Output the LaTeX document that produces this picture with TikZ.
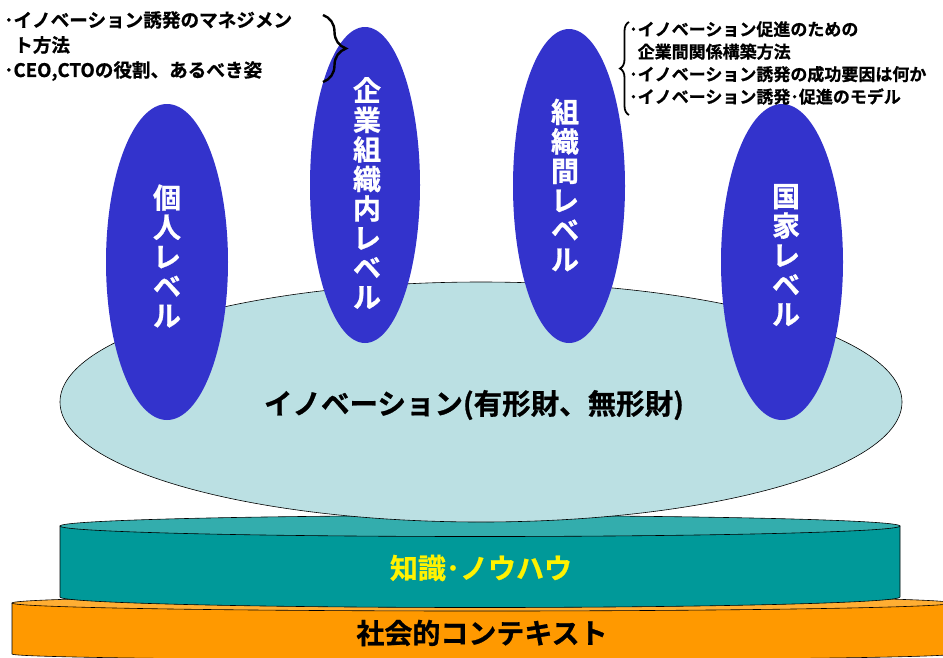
\documentclass[tikz,border=0pt]{standalone}
\usepackage{fontspec}
\setmainfont{Noto Sans CJK JP}[BoldFont={Noto Sans CJK JP Bold}, BoldFeatures={FakeBold=0.8}]
\usetikzlibrary{shapes.geometric,decorations.pathreplacing}
\definecolor{blueE}{HTML}{3333CC}
\definecolor{lightE}{HTML}{BBE0E3}
\definecolor{tealB}{HTML}{009999}
\definecolor{tealT}{HTML}{33ADAD}
\definecolor{orgB}{HTML}{FF9900}
\definecolor{orgT}{HTML}{FFAE33}
\begin{document}
\begin{tikzpicture}[x=1pt,y=-1pt,
  level/.style={ellipse, fill=blueE, inner sep=0pt},
  vtext/.style={text=white, align=center, inner sep=0pt, font=\fontsize{28}{29.5}\selectfont\bfseries},
  note/.style={align=left, inner sep=0pt, anchor=north west},
  bracebig/.style={decorate, decoration={brace, amplitude=#1}, line width=2.4pt}
]
\useasboundingbox (0,0) rectangle (943,657);
\clip (0,0) rectangle (943,657);

% orange base
\fill[orgB] (12,603) -- (12,654) arc[start angle=180,end angle=0,x radius=470,y radius=6] -- (952,603) -- cycle;
\draw[line width=0.6pt] (12,603) -- (12,654) arc[start angle=180,end angle=0,x radius=470,y radius=6];
\node[ellipse, fill=orgT, draw, line width=0.6pt, inner sep=0pt, minimum width=940, minimum height=16] (orgtop) at (482,603) {};
\node[font=\fontsize{28}{30}\selectfont\bfseries, inner sep=0pt] (ctx) at (482,633) {社会的コンテキスト};

% teal cylinder
\filldraw[fill=tealB, line width=0.6pt] (60,526) -- (60,597) arc[start angle=180,end angle=0,x radius=420,y radius=10.5] -- (900,526) -- cycle;
\node[ellipse, fill=tealT, draw, line width=0.6pt, inner sep=0pt, minimum width=840, minimum height=21] (tealtop) at (480,526) {};
\node[text=yellow, font=\fontsize{28}{30}\selectfont\bfseries, inner sep=0pt] (know) at (481,568) {知識･ノウハウ};

% innovation ellipse
\node[ellipse, fill=lightE, draw, line width=0.6pt, inner sep=0pt, minimum width=842, minimum height=240] (inno) at (481,402) {};
\node[font=\fontsize{28.5}{30}\selectfont\bfseries, inner sep=0pt] (innotext) at (474,405) {イノベーション(有形財、無形財)};

% level ellipses
\node[level, minimum width=122, minimum height=316] (kojin) at (167,262) {};
\node[level, minimum width=110, minimum height=316] (kigyo) at (365,185) {};
\node[level, minimum width=112, minimum height=314] (soshiki) at (569,186) {};
\node[level, minimum width=122, minimum height=316] (kokka) at (782,262) {};

\node[vtext] (t1) at (167,256) {個\\人\\レ\\ベ\\ル};
\node[vtext] (t2) at (367,193) {企\\業\\組\\織\\内\\レ\\ベ\\ル};
\node[vtext] (t3) at (565,185) {組\\織\\間\\レ\\ベ\\ル};
\node[vtext] (t4) at (786,255) {国\\家\\レ\\ベ\\ル};

% notes
\node[note, font=\fontsize{18.6}{25}\selectfont\bfseries] (noteL) at (4,11)
  {･イノベーション誘発のマネジメン\\\hspace*{10pt}ト方法\\･CEO,CTOの役割、あるべき姿};
\coordinate (bLa) at (323,15);
\coordinate (bLb) at (323,82);
\draw[bracebig=23pt] (bLa) -- (bLb);

\node[note, font=\fontsize{17}{22.5}\selectfont\bfseries] (noteR) at (629,21)
  {･イノベーション促進のための\\\hspace*{8.5pt}企業間関係構築方法\\･イノベーション誘発の成功要因は何か\\･イノベーション誘発･促進のモデル};
\coordinate (bRa) at (629,115);
\coordinate (bRb) at (629,22);
\draw[bracebig=9pt, line width=1.8pt] (bRa) -- (bRb);
\end{tikzpicture}
\end{document}
